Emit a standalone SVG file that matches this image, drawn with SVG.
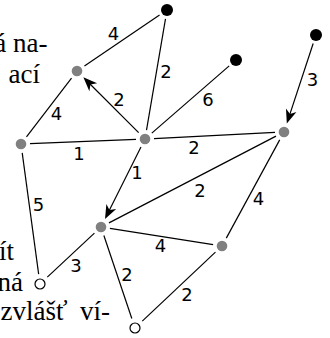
<svg xmlns="http://www.w3.org/2000/svg" width="330" height="338" viewBox="0 0 330 338">
<style>
.e{stroke:#000;stroke-width:1.2;fill:none}
.a{marker-end:url(#arr)}
.g{fill:#808080}
.b{fill:#000}
.w{fill:#fff;stroke:#000;stroke-width:1.2}
.l{font-family:"DejaVu Sans",sans-serif;font-size:18px;fill:#000;text-anchor:middle}
.t{font-family:"Liberation Serif",serif;font-size:27px;fill:#000}
</style>
<defs>
<marker id="arr" markerUnits="userSpaceOnUse" viewBox="-14 -7 20 14" markerWidth="20" markerHeight="14" refX="0" refY="0" orient="auto">
<path d="M3,0 L-11,-5.5 L-7,0 L-11,5.5 Z" fill="#000"/>
</marker>
</defs>
<g id="text">
<text class="t" x="47.5" y="52" text-anchor="end">á na-</text>
<text class="t" x="40" y="83" text-anchor="end">ací</text>
<text class="t" x="14" y="260" text-anchor="end">ít</text>
<text class="t" x="23" y="291" text-anchor="end">ná</text>
<text class="t" x="0.5" y="320">zvlášť</text>
<text class="t" x="110" y="320" text-anchor="end">ví-</text>
</g>
<g id="connectors">
<line class="e" x1="159.55" y1="15.05" x2="84.45" y2="65.95"/>
<line class="e" x1="165.49" y1="18.87" x2="146.51" y2="130.13"/>
<line class="e" x1="71.52" y1="78.14" x2="26.48" y2="136.86"/>
<line class="e a" x1="138.64" y1="132.64" x2="85.48" y2="79.48"/>
<line class="e" x1="151.8" y1="133.1" x2="229.2" y2="65.9"/>
<line class="e" x1="30" y1="143.64" x2="136" y2="139.36"/>
<line class="e" x1="154" y1="138.55" x2="275" y2="132.45"/>
<line class="e a" x1="313.18" y1="43.55" x2="287.76" y2="120.6"/>
<line class="e a" x1="140.98" y1="147.05" x2="106.36" y2="216.27"/>
<line class="e" x1="276.01" y1="136.15" x2="108.99" y2="222.85"/>
<line class="e" x1="279.7" y1="139.9" x2="226.3" y2="238.1"/>
<line class="e" x1="109.89" y1="228.4" x2="213.11" y2="244.6"/>
<line class="e" x1="22.21" y1="152.92" x2="38.65" y2="274.1"/>
<line class="e" x1="94.42" y1="233.14" x2="47.31" y2="277.17"/>
<line class="e" x1="103.87" y1="235.53" x2="131.81" y2="318.53"/>
<line class="e" x1="215.45" y1="252.17" x2="142.28" y2="321.14"/>
<g class="l">
<text x="113.5" y="39.8">4</text>
<text x="166" y="77.8">2</text>
<text x="56.5" y="119.8">4</text>
<text x="119" y="105.8">2</text>
<text x="208" y="105.8">6</text>
<text x="79" y="159.8">1</text>
<text x="194" y="153.8">2</text>
<text x="312.5" y="86.3">3</text>
<text x="137" y="179.3">1</text>
<text x="200" y="196.8">2</text>
<text x="258.5" y="204.8">4</text>
<text x="160.5" y="252.3">4</text>
<text x="38.5" y="211.3">5</text>
<text x="76" y="272.3">3</text>
<text x="127" y="281.3">2</text>
<text x="187" y="301.3">2</text>
</g>
</g>
<g id="A"><circle class="b" cx="167" cy="10" r="6"/></g>
<g id="B"><circle class="b" cx="236" cy="60" r="6"/></g>
<g id="C"><circle class="b" cx="316" cy="35" r="6"/></g>
<g id="D"><circle class="g" cx="77" cy="71" r="5.3"/></g>
<g id="E"><circle class="g" cx="21" cy="144" r="5.3"/></g>
<g id="F"><circle class="g" cx="145" cy="139" r="5.3"/></g>
<g id="G"><circle class="g" cx="284" cy="132" r="5.3"/></g>
<g id="H"><circle class="g" cx="101" cy="227" r="5.3"/></g>
<g id="I"><circle class="g" cx="222" cy="246" r="5.3"/></g>
<g id="J"><circle class="w" cx="40" cy="284" r="5"/></g>
<g id="K"><circle class="w" cx="135" cy="328" r="5"/></g>
</svg>
